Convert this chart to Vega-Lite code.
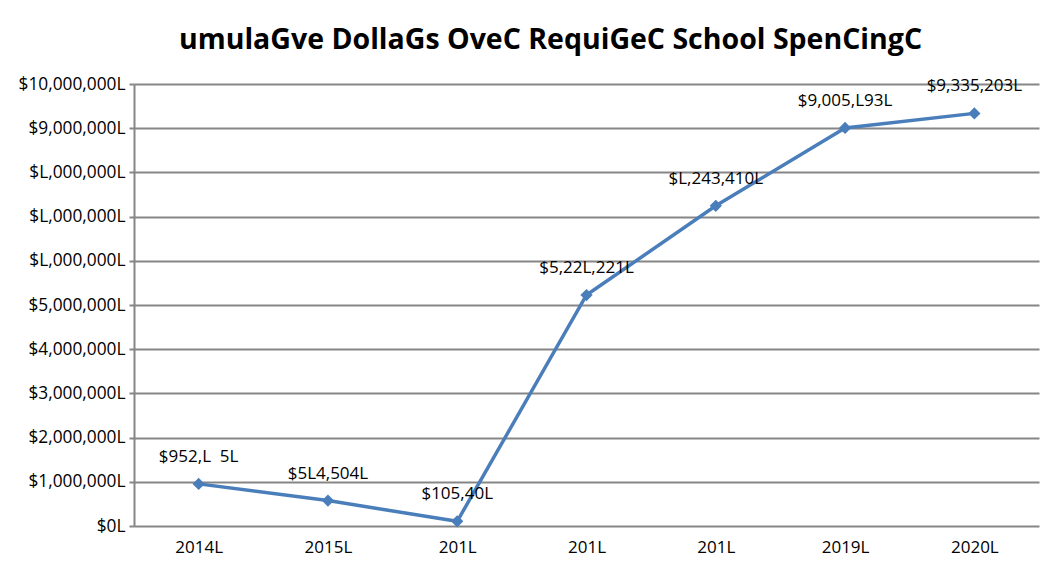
{
  "$schema": "https://vega.github.io/schema/vega-lite/v6.json",
  "width": 905,
  "height": 442,
  "autosize": "none",
  "padding": {"left": 134, "top": 84, "right": 9, "bottom": 47},
  "background": "white",
  "title": {
    "text": "umulaGve DollaGs OveC RequiGeC School SpenCingC",
    "font": "Open Sans",
    "fontSize": 28.5,
    "fontWeight": "bold",
    "color": "#000000",
    "anchor": "middle",
    "dx": -36,
    "offset": 21
  },
  "config": {
    "view": {"stroke": null}
  },
  "data": {
    "values": [
      {"year": 2014, "value": 952765, "label": "$952,L\u00a0\u00a05L"},
      {"year": 2015, "value": 574504, "label": "$5L4,504L"},
      {"year": 2016, "value": 105406, "label": "$105,40L"},
      {"year": 2017, "value": 5226221, "label": "$5,22L,221L"},
      {"year": 2018, "value": 7243410, "label": "$L,243,410L"},
      {"year": 2019, "value": 9005693, "label": "$9,005,L93L"},
      {"year": 2020, "value": 9335203, "label": "$9,335,203L"}
    ]
  },
  "encoding": {
    "x": {
      "field": "year",
      "type": "ordinal",
      "scale": {"type": "point", "padding": 0.5},
      "axis": {
        "title": null,
        "labelAngle": 0,
        "domain": false,
        "ticks": false,
        "grid": false,
        "labelPadding": 13,
        "labelFont": "Open Sans",
        "labelFontSize": 17,
        "labelColor": "#000000",
        "labelExpr": "datum.value >= 2016 && datum.value <= 2018 ? '201L' : datum.value + 'L'"
      }
    },
    "y": {
      "field": "value",
      "type": "quantitative",
      "scale": {"domain": [0, 10000000], "nice": false},
      "axis": {
        "title": null,
        "values": [0, 1000000, 2000000, 3000000, 4000000, 5000000, 6000000, 7000000, 8000000, 9000000, 10000000],
        "grid": true,
        "gridColor": "#868686",
        "gridWidth": 2,
        "domain": true,
        "domainColor": "#868686",
        "domainWidth": 2,
        "ticks": true,
        "tickColor": "#868686",
        "tickWidth": 2,
        "tickSize": 5,
        "labelPadding": 4,
        "labelFont": "Open Sans",
        "labelFontSize": 17.3,
        "labelColor": "#000000",
        "labelExpr": "datum.value >= 6000000 && datum.value <= 8000000 ? '$L,000,000L' : datum.value == 0 ? '$0L' : format(datum.value, '$,') + 'L'"
      }
    }
  },
  "layer": [
    {"mark": {"type": "line", "color": "#4a7ebb", "strokeWidth": 3.5}},
    {"mark": {"type": "point", "shape": "diamond", "filled": true, "color": "#4a7ebb", "size": 150, "opacity": 1}},
    {
      "mark": {"type": "text", "baseline": "middle", "dy": -27, "font": "Open Sans", "fontSize": 17, "color": "#000000"},
      "encoding": {"text": {"field": "label"}}
    }
  ]
}
